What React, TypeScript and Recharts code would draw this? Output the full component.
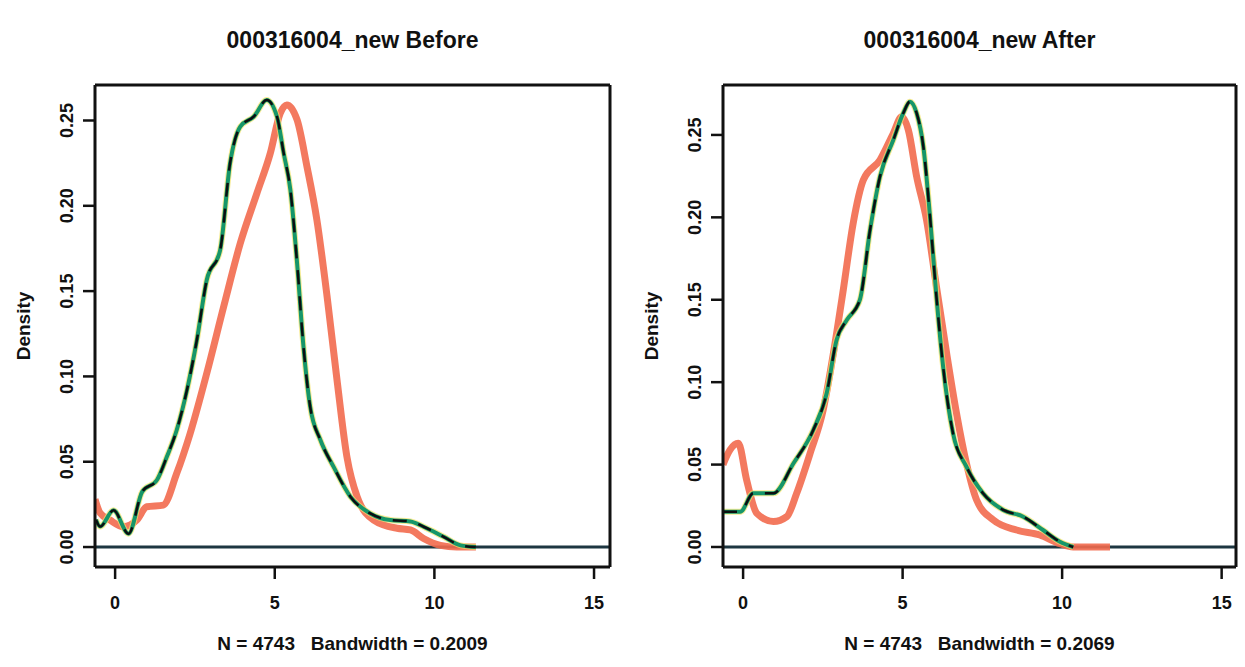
import React from 'react';
import { LineChart, Line, XAxis, YAxis, ReferenceLine } from 'recharts';

const titles = ['000316004_new Before', '000316004_new After'];
const xLabels = ['N = 4743   Bandwidth = 0.2009', 'N = 4743   Bandwidth = 0.2069'];
const yLabel = 'Density';
const xTicks = [0, 5, 10, 15];
const yTicks = [0, 0.05, 0.1, 0.15, 0.2, 0.25];

const beforeGreenX = [-0.6, -0.47, -0.05, 0.42, 0.85, 1.31, 1.62, 1.93, 2.25, 2.56, 2.87, 3.29, 3.6, 3.92, 4.34, 4.75, 5.07, 5.28, 5.49, 5.7, 5.9, 6.11, 6.43, 6.84, 7.37, 7.99, 8.62, 9.25, 9.66, 10.29, 10.82, 11.3];
const beforeGreenY = [0.016, 0.012, 0.0215, 0.0078, 0.0325, 0.0393, 0.0529, 0.0686, 0.092, 0.1213, 0.1565, 0.174, 0.2249, 0.2464, 0.2522, 0.262, 0.2522, 0.2308, 0.2093, 0.1663, 0.1174, 0.0822, 0.0627, 0.0471, 0.0295, 0.0197, 0.0158, 0.015, 0.0119, 0.006, 0.001, 0];

const beforeRedX = [-0.63, -0.47, -0.16, 0.26, 0.68, 0.99, 1.51, 1.93, 2.35, 2.87, 3.4, 3.92, 4.44, 4.86, 5.17, 5.38, 5.7, 6.01, 6.32, 6.64, 6.95, 7.26, 7.58, 8.1, 8.83, 9.25, 9.66, 10.19, 10.7, 11.3];
const beforeRedY = [0.028, 0.0199, 0.0158, 0.0119, 0.0158, 0.0236, 0.0246, 0.0432, 0.0666, 0.1018, 0.1409, 0.178, 0.2073, 0.2308, 0.2542, 0.2591, 0.2503, 0.2229, 0.1917, 0.1467, 0.0979, 0.0529, 0.0295, 0.0158, 0.011, 0.01, 0.005, 0.001, 0, 0];

const afterGreenX = [-0.63, -0.41, -0.09, 0.32, 0.95, 1.58, 2.2, 2.62, 2.93, 3.25, 3.66, 3.98, 4.29, 4.71, 5.02, 5.23, 5.44, 5.65, 5.85, 6.06, 6.27, 6.58, 7.0, 7.52, 8.15, 8.78, 9.4, 9.93, 10.35];
const afterGreenY = [0.0214, 0.0214, 0.0214, 0.0326, 0.0326, 0.0508, 0.071, 0.0933, 0.1256, 0.1377, 0.1499, 0.1924, 0.2247, 0.247, 0.2632, 0.2702, 0.2632, 0.2429, 0.2025, 0.1519, 0.1094, 0.069, 0.0487, 0.0326, 0.0225, 0.0184, 0.0103, 0.0032, 0];

const afterRedX = [-0.63, -0.41, -0.15, 0.11, 0.43, 0.95, 1.37, 1.68, 2.1, 2.51, 2.83, 3.14, 3.45, 3.77, 4.29, 4.71, 4.97, 5.18, 5.44, 5.75, 6.06, 6.38, 6.69, 7.0, 7.32, 7.84, 8.57, 9.3, 9.93, 10.35, 11.5];
const afterRedY = [0.05, 0.0589, 0.0629, 0.0407, 0.0204, 0.0154, 0.0184, 0.0326, 0.0568, 0.0831, 0.1175, 0.156, 0.1964, 0.2227, 0.2348, 0.251, 0.2611, 0.253, 0.2247, 0.1984, 0.158, 0.1175, 0.0811, 0.0508, 0.0285, 0.0164, 0.0103, 0.0073, 0.002, 0, 0];

const zip = (xs: number[], ys: number[]) => xs.map((x, i) => ({ x, y: ys[i] }));

const H = 667;
const BOTTOM_AXIS_H = 40;
const TOP_AXIS_H = 1;
const LEFT_AXIS_W = 50;
const RIGHT_AXIS_W = 1;

const panels = [
  {
    title: titles[0], xLabel: xLabels[0],
    green: zip(beforeGreenX, beforeGreenY), red: zip(beforeRedX, beforeRedY),
    left: 0, width: 625, plot: { l: 95, r: 610, t: 85, b: 567 },
    xDomain: [-0.63, 15.5], yDomain: [-0.0117, 0.2708],
  },
  {
    title: titles[1], xLabel: xLabels[1],
    green: zip(afterGreenX, afterGreenY), red: zip(afterRedX, afterRedY),
    left: 625, width: 620, plot: { l: 98, r: 611, t: 85, b: 567 },
    xDomain: [-0.63, 15.45], yDomain: [-0.01214, 0.2803],
  },
];

const FONT = '"Liberation Sans", Arial, sans-serif';
const INK = '#111';

const YTick = (props: any) => {
  const { x, y, payload } = props;
  const cx = x - 8;
  return (
    <text x={cx} y={y} transform={`rotate(-90, ${cx}, ${y})`} textAnchor="middle"
      fontSize={18} fontWeight="bold" fill={INK} fontFamily={FONT}>
      {Number(payload.value).toFixed(2)}
    </text>
  );
};

const XTick = (props: any) => {
  const { x, y, payload } = props;
  return (
    <text x={x} y={y} dy="0.71em" textAnchor="middle" fontSize={18} fontWeight="bold" fill={INK} fontFamily={FONT}>
      {payload.value}
    </text>
  );
};

function Panel({ p }: { p: any }) {
  const { l, r, t, b } = p.plot;
  const margin = {
    top: t - TOP_AXIS_H,
    bottom: H - b - BOTTOM_AXIS_H,
    left: l - LEFT_AXIS_W,
    right: p.width - r - RIGHT_AXIS_W,
  };
  const cx = (l + r) / 2;
  const cy = (t + b) / 2;
  return (
    <div style={{ position: 'absolute', left: p.left, top: 0, width: p.width, height: H }}>
      <LineChart width={p.width} height={H} margin={margin}>
        <XAxis xAxisId="b" type="number" dataKey="x" domain={p.xDomain} ticks={xTicks} allowDataOverflow
          height={BOTTOM_AXIS_H} tickSize={12} tickMargin={17} axisLine={{ stroke: INK, strokeWidth: 3 }}
          tickLine={{ stroke: INK, strokeWidth: 2.5 }} tick={<XTick />} interval={0} />
        <XAxis xAxisId="t" orientation="top" type="number" domain={p.xDomain} allowDataOverflow
          height={TOP_AXIS_H} tick={false} tickLine={false} axisLine={{ stroke: INK, strokeWidth: 3 }} />
        <YAxis yAxisId="l" type="number" domain={p.yDomain} ticks={yTicks} allowDataOverflow
          width={LEFT_AXIS_W} tickSize={12} tickMargin={2} axisLine={{ stroke: INK, strokeWidth: 3 }}
          tickLine={{ stroke: INK, strokeWidth: 2.5 }} tick={<YTick />} interval={0} />
        <YAxis yAxisId="r" orientation="right" type="number" domain={p.yDomain} allowDataOverflow
          width={RIGHT_AXIS_W} tick={false} tickLine={false} axisLine={{ stroke: INK, strokeWidth: 3 }} />
        <ReferenceLine xAxisId="b" yAxisId="l" y={0} stroke="#1d3641" strokeWidth={3} />
        <Line xAxisId="b" yAxisId="l" data={p.red} dataKey="y" type="monotone" stroke="#f26a4e" strokeOpacity={0.9}
          strokeWidth={7} dot={false} isAnimationActive={false} />
        <Line xAxisId="b" yAxisId="l" data={p.green} dataKey="y" type="monotone" stroke="#f3e36a" strokeOpacity={0.7}
          strokeWidth={6} dot={false} isAnimationActive={false} />
        <Line xAxisId="b" yAxisId="l" data={p.green} dataKey="y" type="monotone" stroke="#16966a"
          strokeWidth={4} dot={false} isAnimationActive={false} />
        <Line xAxisId="b" yAxisId="l" data={p.green} dataKey="y" type="monotone" stroke="#0b0f10"
          strokeWidth={2.5} strokeDasharray="14 12" dot={false} isAnimationActive={false} />
      </LineChart>
      <div style={{ position: 'absolute', left: cx - 200, top: 27, width: 400, textAlign: 'center',
        fontFamily: FONT, fontWeight: 'bold', fontSize: 23, lineHeight: '26px', color: INK }}>{p.title}</div>
      <div style={{ position: 'absolute', left: cx - 200, top: 633, width: 400, textAlign: 'center',
        fontFamily: FONT, fontWeight: 'bold', fontSize: 19, lineHeight: '22px', color: INK, whiteSpace: 'pre' }}>{p.xLabel}</div>
      <div style={{ position: 'absolute', left: l - 71 - 60, top: cy - 11, width: 120, textAlign: 'center',
        fontFamily: FONT, fontWeight: 'bold', fontSize: 19, lineHeight: '22px', color: INK,
        transform: 'rotate(-90deg)' }}>{yLabel}</div>
    </div>
  );
}

export default function App() {
  return (
    <div style={{ position: 'absolute', left: 0, top: 0, width: 1245, height: 667, background: '#fff', overflow: 'hidden' }}>
      {panels.map((p, i) => <Panel key={i} p={p} />)}
    </div>
  );
}
